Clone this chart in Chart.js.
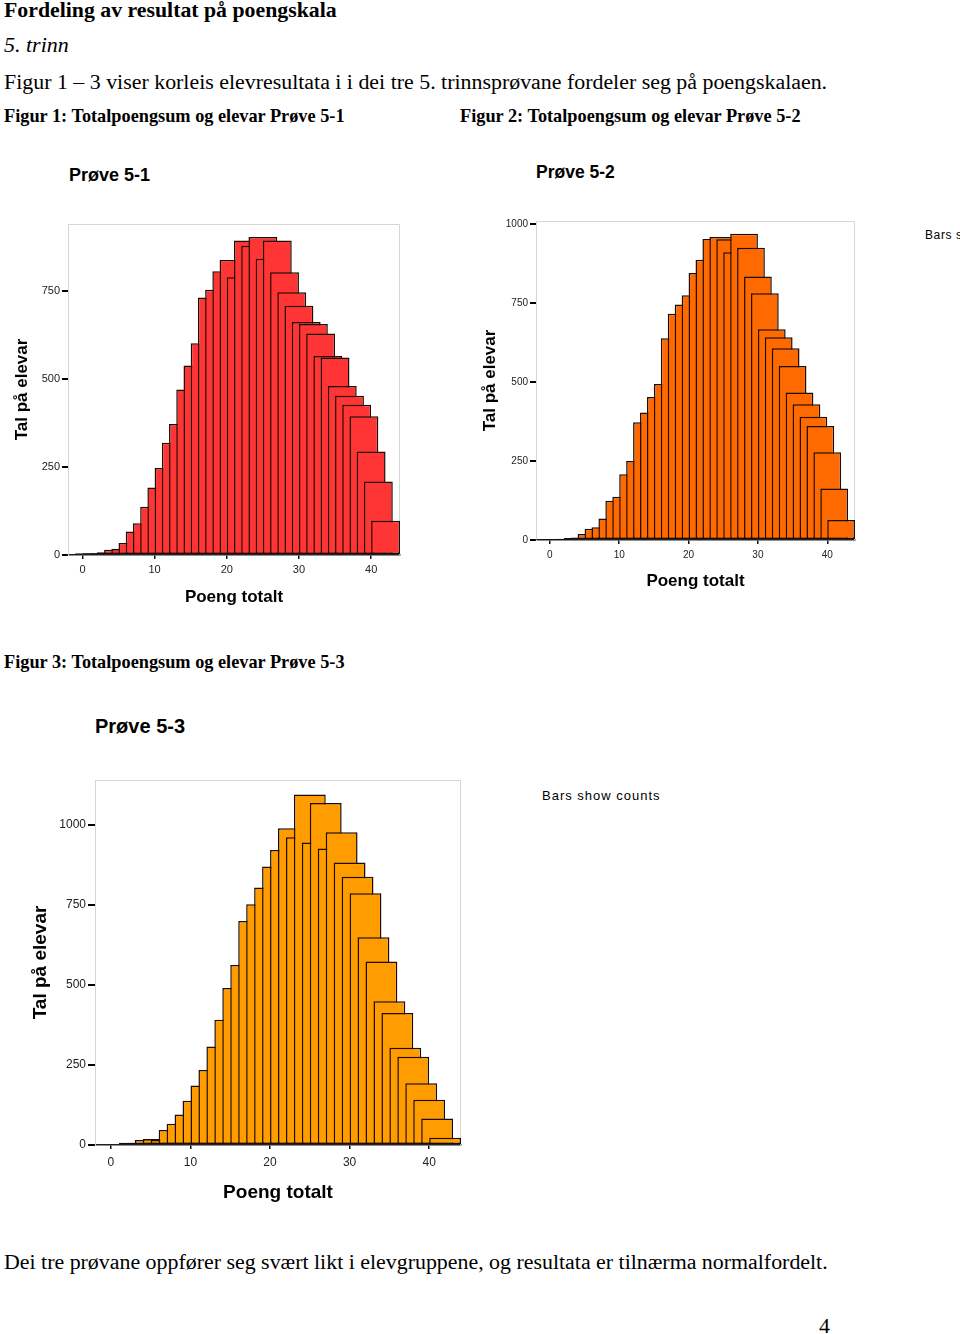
<!DOCTYPE html>
<html>
<head>
  <meta charset="utf-8">
  <title>Fordeling av resultat på poengskala</title>
  <style>
    /* side-oppsett: fast A4-aktig side 960x1334 */
    body {
      margin: 0;
      width: 960px;
      height: 1334px;
      position: relative;
      overflow: hidden;
      background-color: #fff;
      font-family: "Liberation Serif", "Times New Roman", serif;
      color: #000;
    }
    .txt {
      position: absolute;
      white-space: nowrap;
      line-height: 1;
    }
    .h1 { font-size: 21.8px; font-weight: bold; }
    .trinn { font-size: 22px; font-style: italic; }
    .para { font-size: 21.9px; }
    .fig { font-size: 18.3px; font-weight: bold; }
    .ctitle {
      font-family: "Liberation Sans", Arial, sans-serif;
      font-weight: bold;
      font-size: 18px;
    }
    .bars {
      font-family: "Liberation Sans", Arial, sans-serif;
      font-size: 13px;
      letter-spacing: 1px;
    }
    canvas { position: absolute; }
  </style>
  <script src="https://cdn.jsdelivr.net/npm/chart.js"></script>
</head>
<body>
  <div class="txt h1" style="left:4px;top:0px">Fordeling av resultat på poengskala</div>
  <div class="txt trinn" style="left:4px;top:34px">5. trinn</div>
  <div class="txt para" style="left:4px;top:71px">Figur 1 – 3 viser korleis elevresultata i i dei tre 5. trinnsprøvane fordeler seg på poengskalaen.</div>
  <div class="txt fig" style="left:4px;top:107px">Figur 1: Totalpoengsum og elevar Prøve 5-1</div>
  <div class="txt fig" style="left:460px;top:107px">Figur 2: Totalpoengsum og elevar Prøve 5-2</div>

  <div class="txt ctitle" style="left:69px;top:166px">Prøve 5-1</div>
  <div class="txt ctitle" style="left:536px;top:164px;font-size:17.5px">Prøve 5-2</div>
  <div class="txt bars" style="left:925px;top:229px;font-size:12px;letter-spacing:0.6px">Bars show counts</div>

  <canvas id="chart1" width="410" height="406" style="left:0px;top:214px"></canvas>
  <canvas id="chart2" width="397" height="394" style="left:468px;top:211px"></canvas>

  <div class="txt fig" style="left:4px;top:653px">Figur 3: Totalpoengsum og elevar Prøve 5-3</div>
  <div class="txt ctitle" style="left:95px;top:716px;font-size:20px">Prøve 5-3</div>
  <div class="txt bars" style="left:542px;top:789px">Bars show counts</div>

  <canvas id="chart3" width="453" height="447" style="left:18px;top:770px"></canvas>

  <div class="txt para" style="left:4px;top:1251px">Dei tre prøvane oppfører seg svært likt i elevgruppene, og resultata er tilnærma normalfordelt.</div>
  <div class="txt para" style="left:819px;top:1315px">4</div>

  <script>
    // poengsum 0-42 og tal på elevar per poengsum (lese av figuren)
    var scores = [];
    for (var s = 0; s <= 42; s++) scores.push(s);

    var prove51 = [2, 5, 5, 5, 8, 15, 18, 34, 67, 90,
                   137, 192, 247, 319, 372, 470, 538, 601, 731, 753,
                   806, 838, 789, 893, 878, 903, 841, 893, 803, 746,
                   708, 662, 656, 629, 565, 561, 480, 452, 427, 394,
                   294, 209, 97];

    var prove52 = [1, 1, 2, 4, 6, 8, 19, 36, 40, 68,
                   124, 137, 208, 250, 373, 404, 453, 494, 639, 716,
                   746, 775, 845, 887, 953, 959, 952, 911, 970, 925,
                   834, 781, 667, 642, 607, 551, 467, 430, 390, 361,
                   278, 163, 63];

    var prove53 = [2, 2, 3, 7, 7, 16, 19, 16, 47, 66,
                   95, 138, 186, 234, 308, 391, 490, 562, 700, 752,
                   804, 870, 921, 989, 961, 1095, 945, 1068, 926, 977,
                   882, 838, 786, 649, 573, 449, 412, 304, 276, 193,
                   141, 83, 23];

    var xTicks = [0, 10, 20, 30, 40];
    var yTicks = [0, 250, 500, 750, 1000];

    Chart.defaults.font.family = "'Liberation Sans', Arial, sans-serif";
    Chart.defaults.color = '#222';

    // grå ramme oppe og til høgre (SPSS-stil)
    var framePlugin = {
      id: 'frame',
      beforeDatasetsDraw: function (chart) {
        var a = chart.chartArea;
        var ctx = chart.ctx;
        ctx.save();
        ctx.strokeStyle = '#d6d6d6';
        ctx.lineWidth = 1;
        ctx.beginPath();
        ctx.moveTo(a.left, a.top + 0.5);
        ctx.lineTo(a.right - 0.5, a.top + 0.5);
        ctx.lineTo(a.right - 0.5, a.bottom);
        ctx.stroke();
        ctx.restore();
      }
    };

    // tal utan tusenskiljeteikn (1000, ikkje 1,000)
    function plain(v) { return String(v); }

    function makeHistogram(id, counts, color, o) {
      var points = scores.map(function (s, i) { return { x: s, y: counts[i] }; });
      return new Chart(document.getElementById(id), {
        type: 'bar',
        data: {
          datasets: [{
            label: 'Tal på elevar',
            data: points,
            backgroundColor: color,
            borderColor: '#1c0c04',
            borderWidth: 1.5,
            borderSkipped: false,
            // SPSS teiknar kvar søyle 4 poeng brei, den neste oppå den førre
            categoryPercentage: 4,
            barPercentage: 1
          }]
        },
        options: {
          responsive: false,
          animation: false,
          layout: { padding: { top: 10, right: 10, left: 0, bottom: 0 } },
          plugins: {
            legend: { display: false },
            tooltip: { enabled: false }
          },
          scales: {
            x: {
              type: 'linear',
              min: -2,
              max: 44,
              offset: false,
              afterBuildTicks: function (axis) {
                axis.ticks = xTicks.map(function (v) { return { value: v }; });
              },
              ticks: { font: { size: o.tickSize }, padding: o.xTickPad, maxRotation: 0, callback: plain },
              grid: { drawOnChartArea: false, offset: false, tickLength: 4, color: '#111', lineWidth: 1.5 },
              border: { color: '#222', width: 1.5 },
              title: {
                display: true,
                text: 'Poeng totalt',
                font: { size: o.titleSize, weight: 'bold' },
                color: '#000',
                padding: { top: 0, bottom: o.xTitlePad }
              },
              afterFit: function (axis) { axis.height = o.xHeight; }
            },
            y: {
              min: 0,
              max: o.yMax,
              afterBuildTicks: function (axis) {
                axis.ticks = yTicks.filter(function (v) { return v <= o.yMax; })
                  .map(function (v) { return { value: v }; });
              },
              ticks: { font: { size: o.tickSize }, padding: 2, callback: plain },
              grid: { drawOnChartArea: false, tickLength: o.yTickLen, color: '#000', lineWidth: 2 },
              border: { color: '#d6d6d6', width: 1 },
              title: {
                display: true,
                text: 'Tal på elevar',
                font: { size: o.titleSize, weight: 'bold' },
                color: '#000',
                padding: { top: o.yTitlePad, bottom: 0 }
              },
              afterFit: function (axis) { axis.width = o.yWidth; }
            }
          }
        },
        plugins: [framePlugin]
      });
    }

    var chart1 = makeHistogram('chart1', prove51, '#ff3535', {
      yMax: 940, tickSize: 11, titleSize: 17, yWidth: 68, xHeight: 65,
      xTickPad: 4, xTitlePad: 12, yTitlePad: 12, yTickLen: 6
    });
    var chart2 = makeHistogram('chart2', prove52, '#ff6a00', {
      yMax: 1010, tickSize: 10, titleSize: 17, yWidth: 68, xHeight: 65,
      xTickPad: 5, xTitlePad: 13, yTitlePad: 12, yTickLen: 6
    });
    var chart3 = makeHistogram('chart3', prove53, '#ff9c00', {
      yMax: 1140, tickSize: 12, titleSize: 19, yWidth: 77, xHeight: 72,
      xTickPad: 6, xTitlePad: 13, yTitlePad: 11, yTickLen: 7
    });
  </script>
</body>
</html>
